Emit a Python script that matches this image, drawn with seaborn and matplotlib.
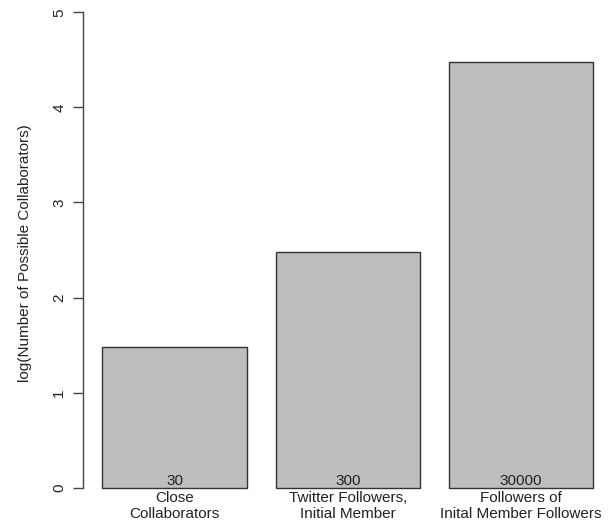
import pandas as pd
import matplotlib
matplotlib.use('Agg')
import matplotlib.pyplot as plt
import seaborn as sns

sns.set_theme(style='white')
plt.rcParams['font.family'] = ['Liberation Sans', 'DejaVu Sans']

categories = ['Close\nCollaborators', 'Twitter Followers,\nInitial Member',
              'Followers of\nInital Member Followers']
counts = ['30', '300', '30000']
log_values = [1.477, 2.477, 4.477]
y_ticks = [0, 1, 2, 3, 4, 5]

TEXT = '#222222'


def main():
    df = pd.DataFrame({'group': categories, 'value': log_values})

    fig = plt.figure(figsize=(6.10, 5.29), dpi=100)
    ax = fig.add_axes([83 / 610, 1 - 506.7 / 529, 527 / 610, 506.7 / 529])

    sns.barplot(data=df, x='group', y='value', order=categories, color='#BEBEBE',
                saturation=1, width=1 / 1.2, edgecolor='#333333', linewidth=1.0,
                ax=ax)

    # counts written at the foot of each bar
    for i, c in enumerate(counts):
        ax.text(i, 0.03, c, ha='center', va='baseline', fontsize=11, color=TEXT)

    ax.set_xlim(-0.528, 2.513)
    ax.set_ylim(-0.2, 5.129)
    ax.set_yticks(y_ticks)
    ax.set_yticklabels([str(t) for t in y_ticks], rotation=90, va='center')

    for side in ['top', 'right', 'bottom']:
        ax.spines[side].set_visible(False)
    ax.spines['left'].set_bounds(0, 5)
    ax.spines['left'].set_color('#444444')
    ax.spines['left'].set_linewidth(1.0)

    ax.tick_params(axis='y', left=True, length=7, width=1.0, color='#444444',
                   pad=5, labelsize=11, labelcolor=TEXT)
    ax.tick_params(axis='x', bottom=False, length=0, pad=-11.5, labelsize=11,
                   labelcolor=TEXT)
    for lab in ax.get_xticklabels():
        lab.set_linespacing(1.25)

    ax.set_xlabel('')
    ax.set_ylabel('log(Number of Possible Collaborators)', fontsize=11, color=TEXT)
    ax.yaxis.set_label_coords(-0.11, 0.5)
    ax.yaxis.label.set_va('center')

    fig.savefig('out.png', dpi=100, facecolor='white')
    plt.close(fig)


if __name__ == '__main__':
    main()
